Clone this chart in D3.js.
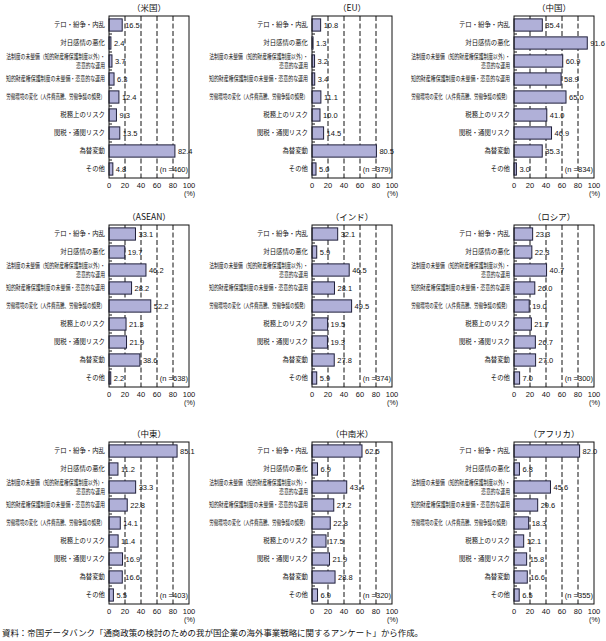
<!DOCTYPE html>
<html><head><meta charset="utf-8">
<script src="https://cdn.jsdelivr.net/npm/d3@7"></script>
<style>body{margin:0;background:#fff}svg{display:block}</style>
</head><body><svg id="c" width="606" height="641"></svg>
<script>
const categories = [
  ["テロ・紛争・内乱"],
  ["対日感情の悪化"],
  ["法制度の未整備（知的財産権保護制度以外）・", "恣意的な運用"],
  ["知的財産権保護制度の未整備・恣意的な運用"],
  ["労働環境の変化（人件費高騰、労働争議の頻発）"],
  ["税務上のリスク"],
  ["関税・通関リスク"],
  ["為替変動"],
  ["その他"]
];
const regions = ["（米国）","（EU）","（中国）","（ASEAN）","（インド）","（ロシア）","（中東）","（中南米）","（アフリカ）"];
const sampleSizes = [460, 379, 834, 638, 374, 300, 403, 320, 355];
const usValues      = [16.5, 2.4, 3.7, 6.3, 12.4, 9.3, 13.5, 82.4, 4.8];
const euValues      = [10.8, 1.3, 3.2, 3.4, 11.1, 10.0, 14.5, 80.5, 5.0];
const chinaValues   = [35.4, 91.6, 60.9, 58.9, 65.0, 41.0, 46.9, 35.3, 3.0];
const aseanValues   = [33.1, 19.7, 46.2, 28.2, 52.2, 21.3, 21.9, 38.6, 2.2];
const indiaValues   = [32.1, 5.9, 46.5, 28.1, 49.5, 19.5, 19.3, 27.8, 5.9];
const russiaValues  = [23.3, 22.3, 40.7, 26.0, 19.0, 21.7, 26.7, 27.0, 7.0];
const mideastValues = [85.1, 11.2, 33.3, 22.8, 14.1, 11.4, 16.9, 16.6, 5.5];
const latamValues   = [62.5, 6.9, 43.4, 27.2, 22.8, 17.5, 21.9, 28.8, 6.9];
const africaValues  = [82.0, 6.8, 45.6, 29.6, 18.3, 12.1, 15.8, 16.6, 6.5];
const xTicks = [0, 20, 40, 60, 80, 100];
const unitLabel = "(%)";
const sourceText = "資料：帝国データバンク「通商政策の検討のための我が国企業の海外事業戦略に関するアンケート」から作成。";

const seriesList = [usValues, euValues, chinaValues, aseanValues, indiaValues, russiaValues, mideastValues, latamValues, africaValues];

const svg = d3.select("#c");
const colX = [109, 312, 514];
const rowY = [16, 225, 442];
const plotW = 80, plotH = 162;
const jp = "'Noto Sans CJK JP', sans-serif";
const num = "'Liberation Sans', Arial, sans-serif";
const barFill = "#b0b0d8", barStroke = "#1f1f3a";

seriesList.forEach((vals, i) => {
  const cx = colX[i % 3], cy = rowY[Math.floor(i / 3)];
  const g = svg.append("g").attr("transform", `translate(${cx},${cy})`);
  const x = d3.scaleLinear().domain([0, 100]).range([0, plotW]);
  const y = d3.scaleBand().domain(d3.range(categories.length)).range([0, plotH]).paddingInner(0.32).paddingOuter(0.16);
  const step = y.step();

  g.selectAll("line.grid").data(xTicks.filter(t => t > 0 && t < 100)).join("line")
    .attr("x1", d => x(d)).attr("x2", d => x(d)).attr("y1", 0).attr("y2", plotH)
    .attr("stroke", "#111").attr("stroke-width", 1).attr("stroke-dasharray", "5,2.5");

  g.selectAll("rect.bar").data(vals).join("rect")
    .attr("x", 0).attr("y", (d, j) => y(j)).attr("width", d => x(d)).attr("height", y.bandwidth())
    .attr("fill", barFill).attr("stroke", barStroke).attr("stroke-width", 1);

  g.append("rect").attr("x", 0).attr("y", 0).attr("width", plotW).attr("height", plotH)
    .attr("fill", "none").attr("stroke", "#111").attr("stroke-width", 1);

  g.selectAll("line.ct").data(d3.range(1, categories.length)).join("line")
    .attr("x1", 0).attr("x2", 3).attr("y1", d => d * step).attr("y2", d => d * step)
    .attr("stroke", "#111");

  g.selectAll("text.val").data(vals).join("text")
    .attr("x", d => x(d) + 3).attr("y", (d, j) => y(j) + y.bandwidth() / 2)
    .attr("dy", "0.35em").attr("font-family", num).attr("font-size", 7.5).attr("fill", "#111")
    .text(d => d.toFixed(1));

  g.append("text").attr("x", plotW - 1).attr("y", y(categories.length - 1) + y.bandwidth() / 2)
    .attr("dy", "0.35em").attr("text-anchor", "end").attr("font-family", num).attr("font-size", 7.5)
    .attr("fill", "#111").text(`(n =${sampleSizes[i]})`);

  categories.forEach((lines, j) => {
    const yc = y(j) + y.bandwidth() / 2;
    const lg = g.append("g").attr("transform", `translate(-4,${yc})`);
    lines.forEach((ln, k) => {
      lg.append("text").attr("text-anchor", "end").attr("font-family", jp).attr("font-size", 6.4).attr("fill", "#111")
        .attr("x", 0).attr("y", (k - (lines.length - 1) / 2) * 9).attr("dy", "0.35em").text(ln);
    });
    const w = lg.node().getBBox().width;
    const maxW = 99;
    if (w > maxW) lg.attr("transform", `translate(-4,${yc}) scale(${maxW / w},1)`);
  });

  g.selectAll("text.tick").data(xTicks).join("text")
    .attr("x", d => x(d)).attr("y", plotH + 7).attr("dy", "0.35em").attr("text-anchor", "middle")
    .attr("font-family", num).attr("font-size", 7.5).attr("fill", "#111").text(d => d);
  g.append("text").attr("x", plotW + 6).attr("y", plotH + 16).attr("dy", "0.35em").attr("text-anchor", "end")
    .attr("font-family", num).attr("font-size", 7).attr("fill", "#111").text(unitLabel);

  g.append("text").attr("x", plotW / 2).attr("y", -8).attr("dy", "0.35em").attr("text-anchor", "middle")
    .attr("font-family", jp).attr("font-size", 8.5).attr("fill", "#111").text(regions[i]);
});

svg.append("text").attr("x", 2).attr("y", 633).attr("dy", "0.35em")
  .attr("font-family", jp).attr("font-size", 8.5).attr("fill", "#111")
  .attr("textLength", 421).attr("lengthAdjust", "spacingAndGlyphs").text(sourceText);
</script></body></html>
